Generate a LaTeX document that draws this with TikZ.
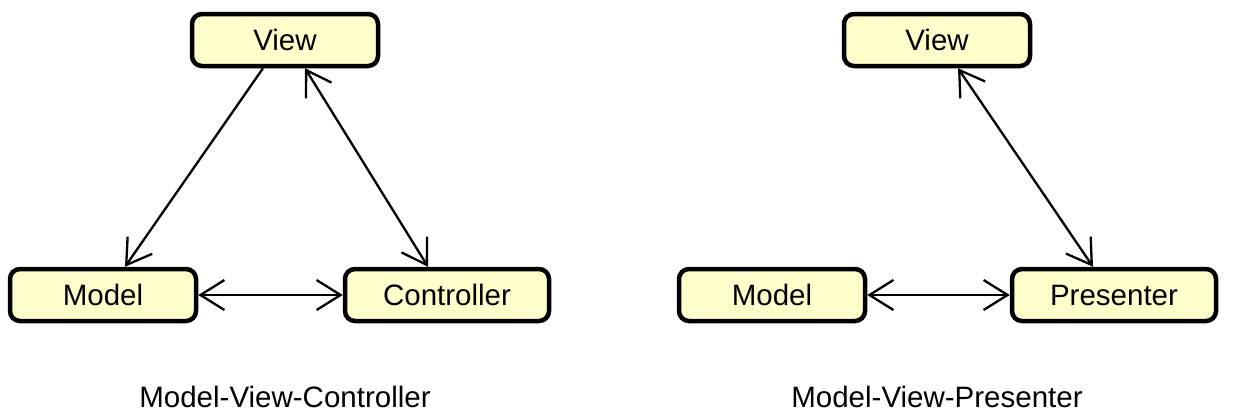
\documentclass[tikz,border=0pt]{standalone}
\usepackage{fontspec}
\setmainfont{Liberation Sans}
\usetikzlibrary{arrows.meta}
\definecolor{boxfill}{RGB}{255,255,204}
\tikzset{
  box/.style={draw=black, line width=4.5pt, fill=boxfill, rounded corners=10pt,
    minimum height=52pt, inner sep=0pt, font=\fontsize{29.5}{35}\selectfont},
  conn/.style={line width=2.3pt, {Straight Barb[length=24pt,width=30pt]}-{Straight Barb[length=24pt,width=30pt]}},
  conn1/.style={line width=2.3pt, -{Straight Barb[length=24pt,width=30pt]}},
  caption/.style={font=\fontsize{29.5}{35}\selectfont, inner sep=0pt}
}
\begin{document}
\begin{tikzpicture}[x=1pt,y=-1pt]
\useasboundingbox (0,0) rectangle (1234,416);
% MVC
\node[box, minimum width=186pt] (v1) at (285,40) {View};
\node[box, minimum width=186pt] (m1) at (103,295) {Model};
\node[box, minimum width=204pt] (c1) at (447,295) {Controller};
\draw[conn1] ([xshift=-22pt]v1.south) -- ([xshift=22pt]m1.north);
\draw[conn] ([xshift=20pt]v1.south) -- ([xshift=-19pt]c1.north);
\draw[conn] (m1.east) -- (c1.west);
\node[caption] (t1) at (285,397) {Model-View-Controller};
% MVP
\node[box, minimum width=186pt] (v2) at (937,40) {View};
\node[box, minimum width=186pt] (m2) at (772,295) {Model};
\node[box, minimum width=204pt] (p2) at (1114,295) {Presenter};
\draw[conn] ([xshift=21pt]v2.south) -- ([xshift=-21pt]p2.north);
\draw[conn] (m2.east) -- (p2.west);
\node[caption] (t2) at (937,397) {Model-View-Presenter};
\end{tikzpicture}
\end{document}
